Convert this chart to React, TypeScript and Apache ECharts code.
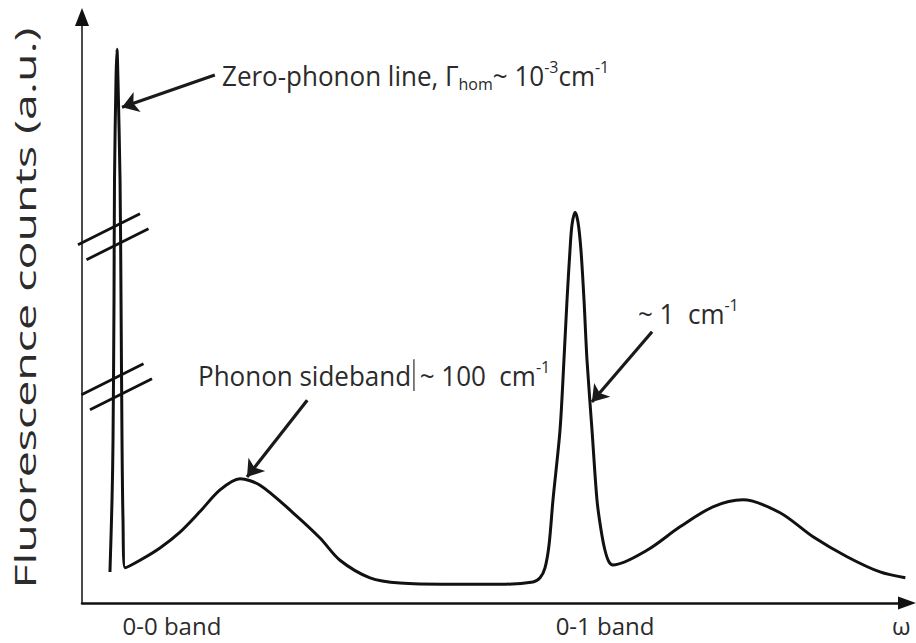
import React, { useEffect, useRef } from "react";
import * as echarts from "echarts";

// Spectrum trace (x: relative frequency, y: relative counts)
const spectrumX = [
  3.39, 3.64, 3.76, 3.88, 3.94, 4.12, 4.24, 4.36, 4.61, 4.73, 4.85, 4.97, 5.21,
  7.03, 9.45, 11.88, 14.3, 16.73, 19.15, 21.58, 25.58, 28.85, 31.27, 34.91, 38.55, 44.61, 50.67, 54.67,
  55.52, 56.12, 56.61, 57.09, 57.94, 58.42, 58.79, 59.15, 59.39, 59.76, 60.12, 60.48, 60.85,
  61.21, 61.82, 62.42, 62.91, 63.39, 63.88, 64.36,
  68.48, 72.48, 76.48, 80.12, 84.61, 88.61, 92.73, 96.73, 99.8,
];
const spectrumY = [
  5.3, 17.6, 27.8, 51.7, 72.2, 89.3, 94.5, 89.3, 72.2, 51.7, 27.8, 14.2, 6.0,
  7.3, 9.4, 12.1, 15.6, 19.3, 21.2, 20.1, 15.4, 11.1, 7.3, 4.3, 3.4, 3.2, 3.2, 3.6,
  4.3, 6.0, 9.9, 17.6, 29.5, 41.5, 51.7, 60.2, 64.5, 66.7, 65.0, 60.2, 51.7,
  41.5, 29.5, 17.6, 12.5, 9.0, 7.0, 6.5,
  9.0, 13.0, 16.4, 17.6, 15.4, 11.3, 7.9, 5.3, 4.3,
];

const xTickValues = [10.9, 63.4, 99.3];
const xTickLabels = ["0-0 band", "0-1 band", "ω"];
const yAxisName = "Fluorescence counts (a.u.)";

// Annotation arrows: [from, to] in data coordinates
const arrowFrom = [
  [16.1, 90.1],
  [27.3, 34.6],
  [69.1, 46.3],
];
const arrowTo = [
  [4.85, 84.6],
  [20.0, 21.5],
  [61.8, 34.3],
];

// Annotation texts anchored (left, middle) at data coordinates
const annotationAnchors = [
  [16.97, 90.1],
  [14.06, 38.9],
  [67.39, 49.5],
];
const annotationTexts = [
  "Zero-phonon line, Γ{sub|hom}~ 10{sup|-3}cm{sup|-1}",
  "Phonon sideband{g1| }{bar| }{g2| }~ 100  cm{sup|-1}",
  "~ 1  cm{sup|-1}",
];

// Axis-break marks on the zero-phonon line
const breakMarks = [
  [3.76, 62.5],
  [4.18, 36.9],
];

const FONT = "Open Sans";
const TEXT_COLOR = "#2b2b2b";
const LINE_COLOR = "#111";

export default function App() {
  const ref = useRef<HTMLDivElement>(null);

  useEffect(() => {
    if (!ref.current) return;
    const chart = echarts.init(ref.current, undefined, { renderer: "svg" });

    const data = spectrumX.map((x, i) => [x, spectrumY[i]]);

    chart.setOption({
      animation: false,
      grid: { left: 82, right: 9, top: 17, bottom: 40, containLabel: false, outerBoundsMode: "none" },
      xAxis: {
        type: "value",
        min: 0,
        max: 100,
        axisLine: {
          show: true,
          lineStyle: { color: LINE_COLOR, width: 2.5 },
          symbol: ["none", "triangle"],
          symbolSize: [13, 18],
        },
        axisTick: { show: false },
        axisLabel: { show: false },
        splitLine: { show: false },
      },
      yAxis: {
        type: "value",
        min: 0,
        max: 100,
        offset: 14,
        axisLine: {
          show: true,
          lineStyle: { color: LINE_COLOR, width: 1.5 },
          symbol: ["none", "triangle"],
          symbolSize: [14, 18],
        },
        axisTick: { show: false },
        axisLabel: { show: false },
        splitLine: { show: false },
      },
      series: [
        {
          type: "line",
          data,
          symbol: "none",
          showSymbol: false,
          smooth: 0.3,
          clip: false,
          silent: true,
          lineStyle: { color: LINE_COLOR, width: 3 },
          markLine: {
            silent: true,
            symbol: ["none", "arrow"],
            symbolSize: 16,
            label: { show: false },
            lineStyle: { color: "#1a1a1a", width: 3.2, type: "solid" },
            emphasis: { disabled: true },
            data: arrowFrom.map((a, i) => [{ coord: a }, { coord: arrowTo[i] }]),
          },
        },
      ],
    });

    const px = (p: number[]) => chart.convertToPixel({ gridIndex: 0 }, p) as number[];
    const graphics: any[] = [];

    const rich = {
      sub: { fontSize: 16, fontFamily: FONT, fill: TEXT_COLOR, verticalAlign: "bottom", lineHeight: 16 },
      sup: { fontSize: 16, fontFamily: FONT, fill: TEXT_COLOR, verticalAlign: "top", lineHeight: 16 },
      g1: { width: 2, fontSize: 10 },
      g2: { width: 5, fontSize: 10 },
      bar: { width: 1.5, height: 30, backgroundColor: "#555", fontSize: 10 },
    };

    annotationAnchors.forEach((a, i) => {
      const [x, y] = px(a);
      graphics.push({
        type: "text",
        x,
        y,
        scaleY: 1.06,
        silent: true,
        style: {
          text: annotationTexts[i],
          fontSize: 26,
          fontFamily: FONT,
          fill: TEXT_COLOR,
          lineHeight: 32,
          align: "left",
          verticalAlign: "middle",
          rich,
        },
      });
    });

    xTickValues.forEach((v, i) => {
      const [x, y] = px([v, 0]);
      graphics.push({
        type: "text",
        x,
        y: y + 22,
        silent: true,
        style: {
          text: xTickLabels[i],
          fontSize: 24,
          fontFamily: FONT,
          fill: TEXT_COLOR,
          align: "center",
          verticalAlign: "middle",
        },
      });
    });

    const mid = px([0, 50]);
    graphics.push({
      type: "text",
      x: mid[0] - 58,
      y: mid[1] - 2,
      rotation: Math.PI / 2,
      scaleX: 1.55,
      silent: true,
      style: {
        text: yAxisName,
        fontSize: 30,
        fontFamily: FONT,
        fill: TEXT_COLOR,
        align: "center",
        verticalAlign: "middle",
      },
    });

    breakMarks.forEach((b) => {
      const [cx, cy] = px(b);
      const lines = [
        [cx - 4, cy - 7.5],
        [cx + 4.5, cy + 7.5],
      ];
      lines.forEach(([lx, ly]) => {
        graphics.push({
          type: "line",
          silent: true,
          shape: { x1: lx - 31, y1: ly + 15.5, x2: lx + 31, y2: ly - 15.5 },
          style: { stroke: LINE_COLOR, lineWidth: 2.8 },
        });
      });
    });

    chart.setOption({ graphic: graphics });

    return () => chart.dispose();
  }, []);

  return <div ref={ref} style={{ width: 916, height: 643, position: "absolute", left: 0, top: 0, background: "#fff" }} />;
}
